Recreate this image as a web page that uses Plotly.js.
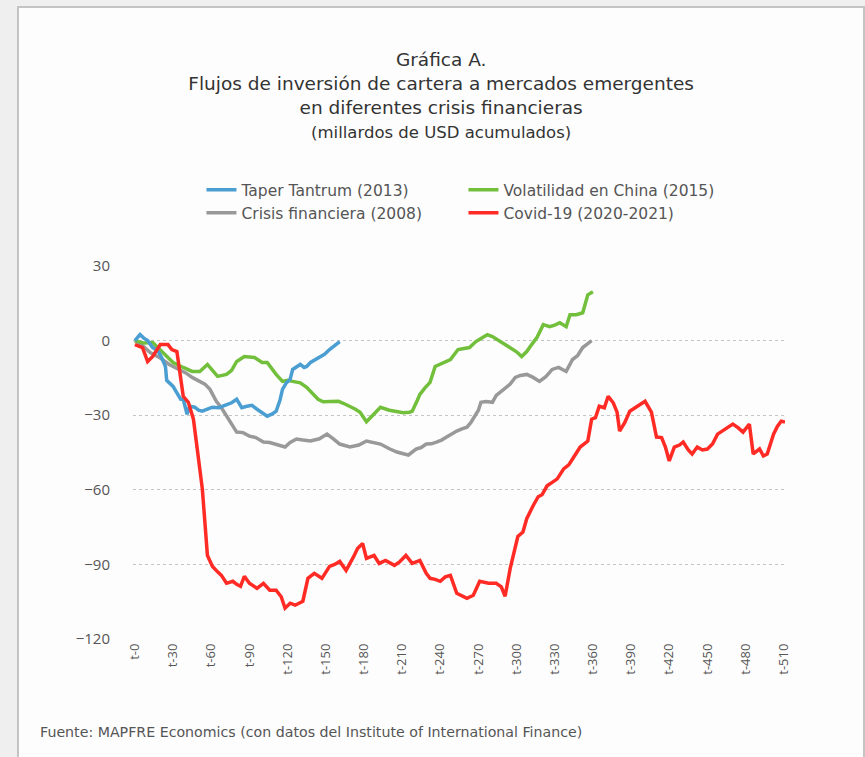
<!DOCTYPE html>
<html>
<head>
<meta charset="utf-8">
<script src="https://cdn.plot.ly/plotly-3.0.1.min.js"></script>
<style>
  html, body { margin: 0; padding: 0; background: #efefef; width: 865px; height: 757px; overflow: hidden; }
  #panel { position: absolute; left: 17px; top: 6px; width: 848px; height: 760px; background: #fdfdfd; border: 2px solid #c4c4c4; box-sizing: border-box; }
  #chart { position: absolute; left: 0; top: 0; width: 865px; height: 757px; }
</style>
</head>
<body>
<div id="panel"></div>
<div id="chart"></div>
<script>
// x tick labels
const tickDays = [0,30,60,90,120,150,180,210,240,270,300,330,360,390,420,450,480,510];
const tickLabels = tickDays.map(d => 't-' + d);

// Taper Tantrum (2013)
const taperDays = [0,2,4,7,10,14,18,21,24,25,28,30,33,36,38,41,43,47,50,53,57,61,66,72,76,80,84,88,92,96,100,104,108,111,114,116,119,122,124,127,130,133,135,138,142,145,149,153,157,161];
const taperVals = [0,1,2.4,1,0,-2.8,-4,-6.8,-10.4,-16,-17.6,-18.4,-21,-23.6,-23.6,-29.6,-26.4,-26.8,-28,-28.4,-27.6,-26.8,-27,-25.6,-25,-23.6,-27,-26.4,-26,-27.6,-29,-30.4,-29.5,-28.4,-24,-19.6,-17,-15.6,-11.6,-10.4,-9.6,-10.8,-10.4,-8.8,-7.5,-6.8,-5.5,-3.6,-2,-0.4];

// Volatilidad en China (2015)
const chinaDays = [0,7,14,22,30,38,45,51,57,61,65,72,76,80,86,94,100,104,111,116,120,124,130,135,138,144,148,153,160,165,169,173,177,182,187,193,200,206,211,216,218,222,224,228,232,236,242,248,254,258,263,268,273,277,281,285,290,295,300,304,308,312,316,321,326,330,334,339,342,347,352,356,360];
const chinaVals = [0,-1,-0.8,-4.8,-8.8,-10.8,-12.4,-12.4,-9.6,-12,-14.4,-13.6,-12,-8.4,-6.4,-6.8,-8.8,-8.8,-13.6,-16.4,-16,-16.4,-17,-18.8,-20.4,-23.6,-24.6,-24.4,-24.4,-25.5,-26.4,-27.5,-28.8,-32.6,-30,-26.8,-28,-28.4,-29,-28.8,-28.4,-24,-21.6,-19,-16.8,-10.4,-9,-7.6,-3.6,-3.2,-2.8,-0.4,1.2,2.4,1.6,0.4,-1.5,-2.8,-4.5,-6.4,-4.4,-1.5,1.2,6.4,5.6,6.2,7.2,5.6,10.4,10.4,11.2,18.4,19.6];

// Crisis financiera (2008)
const crisisDays = [0,6,12,20,27,35,40,45,51,55,59,64,68,72,76,80,85,90,95,101,106,111,118,122,127,132,138,145,151,156,161,169,176,182,187,193,200,206,211,215,221,225,229,233,237,241,245,249,253,257,261,264,267,270,272,276,281,284,287,292,295,299,303,308,313,318,323,328,333,339,344,348,352,356,359];
const crisisVals = [0,-2,-4.8,-7,-9.6,-11.6,-13,-14.8,-16.4,-17.5,-19.6,-24.4,-27,-30.4,-33.5,-36.8,-37,-38.4,-39,-40.8,-41,-41.6,-42.8,-41,-39.6,-40,-40.4,-39.5,-37.6,-39.5,-41.6,-42.8,-42,-40.4,-41,-41.6,-43.5,-44.8,-45.5,-46,-43.6,-43,-41.6,-41.5,-40.8,-40,-38.8,-37.5,-36.4,-35.5,-34.8,-33,-30.4,-28,-24.8,-24.5,-24.8,-22,-20.8,-18.8,-17.5,-14.8,-14,-13.6,-14.8,-16.4,-14.5,-11.6,-10.8,-12.4,-7.6,-6,-2.8,-1.2,0];

// Covid-19 (2020-2021)
const covidDays = [0,6,10,14,20,26,29,33,35,38,
  42,46,49,53,57,61,65,68,72,77,
  80,83,86,90,96,101,106,111,115,118,
  122,126,132,136,141,147,153,157,161,166,
  172,175,179,182,188,192,197,204,208,213,
  218,224,229,232,236,240,244,248,253,257,
  261,266,271,278,284,288,291,295,298,301,
  305,308,313,317,320,324,328,332,337,341,
  344,350,356,359,362,365,369,372,376,379,
  381,385,389,393,397,401,406,410,414,417,
  420,424,428,431,435,438,442,446,450,454,
  458,462,466,470,474,478,483,486,491,494,
  497,502,505,508,511];
const covidVals = [-1.6,-2.8,-8.4,-6.4,-1.6,-1.6,-3.6,-4.4,-11.6,-22.4,
  -24.8,-31.6,-43.6,-59.6,-86.4,-90.8,-93,-94.4,-97.6,-96.8,
  -98,-98.8,-94.8,-97.6,-99.6,-97.6,-100.4,-100.4,-103,-107.6,
  -105.6,-106.4,-104.8,-95.6,-93.6,-95.6,-90.8,-90,-88.8,-92.4,
  -86.8,-83.6,-81.6,-87.6,-86.4,-89.6,-88.4,-90.4,-89,-86.4,
  -89.6,-88.4,-93.6,-95.6,-96,-96.8,-95,-94.4,-101.6,-102.5,
  -103.6,-102.4,-96.8,-97.6,-97.6,-99,-102.8,-91.6,-85,-78.8,
  -77,-71.6,-66.4,-62.8,-62,-58.4,-57,-55.6,-51.6,-50,
  -47.6,-42.8,-40.4,-31.6,-31,-26.4,-27,-22.4,-25,-28.8,
  -36.4,-33,-28.4,-27,-25.6,-24.4,-28.8,-38.8,-39,-42.8,
  -48.4,-42.8,-42,-40.8,-44,-45.6,-42.8,-44,-43.6,-41.6,
  -37.6,-36.4,-35,-33.6,-35,-36.8,-33.6,-45.6,-43.6,-46.4,
  -45.6,-37.6,-34.5,-32.4,-32.8];

const TFONT = '"DejaVu Sans", "Open Sans", Arial, sans-serif';
const FONT = '"Open Sans", Roboto, "Liberation Sans", Arial, sans-serif';
const lw = 3.5;

const traces = [
  { x: crisisDays, y: crisisVals, name: 'Crisis financiera (2008)', legendrank: 3,
    mode: 'lines', line: { color: '#999999', width: lw } },
  { x: chinaDays, y: chinaVals, name: 'Volatilidad en China (2015)', legendrank: 2,
    mode: 'lines', line: { color: '#72bf3c', width: lw } },
  { x: taperDays, y: taperVals, name: 'Taper Tantrum (2013)', legendrank: 1,
    mode: 'lines', line: { color: '#4a9ed2', width: lw } },
  { x: covidDays, y: covidVals, name: 'Covid-19 (2020-2021)', legendrank: 4,
    mode: 'lines', line: { color: '#ff2b24', width: lw } }
];

const layout = {
  width: 865, height: 757,
  paper_bgcolor: 'rgba(0,0,0,0)',
  plot_bgcolor: 'rgba(0,0,0,0)',
  font: { family: FONT, color: '#555555' },
  margin: { l: 133, r: 80, t: 265, b: 117, pad: 0 },
  showlegend: true,
  title: {
    text: 'Gráfica A.<br>Flujos de inversión de cartera a mercados emergentes<br>en diferentes crisis financieras<br><span style="font-size:16.5px">(millardos de USD acumulados)</span>',
    font: { family: TFONT, size: 18.5, color: '#333333' },
    x: 0.51, xanchor: 'center', xref: 'container',
    y: 0.913, yanchor: 'top', yref: 'container'
  },
  legend: {
    orientation: 'h',
    x: 0.105, xanchor: 'left',
    y: 1.245, yanchor: 'top',
    entrywidth: 217,
    font: { family: TFONT, size: 15.5, color: '#555555' },
    bgcolor: 'rgba(0,0,0,0)',
    traceorder: 'normal'
  },
  xaxis: {
    range: [-1.5, 511],
    tickmode: 'array', tickvals: tickDays, ticktext: tickLabels,
    tickangle: -90,
    tickfont: { family: FONT, size: 13, color: '#555555' },
    showgrid: false, zeroline: false, showline: false, ticks: '',
    fixedrange: true
  },
  yaxis: {
    range: [-120.4, 30.4],
    tickmode: 'array', tickvals: [-120,-90,-60,-30,0,30],
    tickfont: { family: FONT, size: 15, color: '#555555' },
    showgrid: true, gridcolor: '#c4c4c4', griddash: 'dot', gridwidth: 1,
    zeroline: false, showline: false, ticks: '',
    ticklabelstandoff: 22,
    fixedrange: true
  },
  annotations: [{
    text: 'Fuente: MAPFRE Economics (con datos del Institute of International Finance)',
    xref: 'paper', yref: 'paper',
    x: -0.1455, xanchor: 'left',
    y: -0.246, yanchor: 'middle',
    showarrow: false,
    font: { family: TFONT, size: 14.2, color: '#555555' }
  }]
};

Plotly.newPlot('chart', traces, layout, { displayModeBar: false, staticPlot: true });
</script>
</body>
</html>
